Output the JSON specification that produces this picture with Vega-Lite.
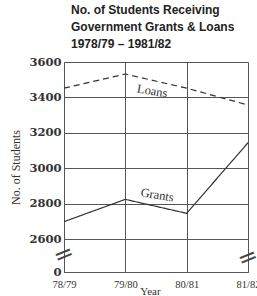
{
  "$schema": "https://vega.github.io/schema/vega-lite/v6.json",
  "autosize": {"type": "none"},
  "padding": {"left": 64, "top": 62, "right": 9, "bottom": 24},
  "width": 184,
  "height": 210,
  "background": "white",
  "title": {
    "text": ["No. of Students Receiving", "Government Grants & Loans", "1978/79 \u2013 1981/82"],
    "anchor": "start",
    "frame": "group",
    "dx": 7,
    "offset": 5,
    "font": "Liberation Sans",
    "fontSize": 12,
    "fontWeight": "bold",
    "color": "#222",
    "lineHeight": 17
  },
  "config": {
    "view": {"stroke": null},
    "axis": {"gridColor": "#555", "domainColor": "#555", "gridOpacity": 1, "ticks": false, "labelOverlap": false, "tickCount": 12}
  },
  "layer": [
    {
      "data": {"values": [
        {"year": 1978, "series": "Loans", "students": 3452},
        {"year": 1979, "series": "Loans", "students": 3532},
        {"year": 1980, "series": "Loans", "students": 3452},
        {"year": 1981, "series": "Loans", "students": 3357},
        {"year": 1978, "series": "Grants", "students": 2698},
        {"year": 1979, "series": "Grants", "students": 2824},
        {"year": 1980, "series": "Grants", "students": 2745},
        {"year": 1981, "series": "Grants", "students": 3144}
      ]},
      "mark": {"type": "line", "color": "#333", "strokeWidth": 1.2},
      "encoding": {
        "x": {
          "field": "year", "type": "quantitative",
          "scale": {"domain": [1978, 1981], "nice": false, "zero": false},
          "axis": {
            "values": [1978, 1979, 1980, 1981],
            "labelExpr": "(datum.value % 100) + '/' + ((datum.value + 1) % 100)",
            "grid": true,
            "labelFont": "Liberation Serif", "labelFontSize": 10.5, "labelColor": "#333",
            "labelPadding": 7, "labelFlush": false,
            "title": "Year", "titleFont": "Liberation Serif", "titleFontSize": 11,
            "titleFontWeight": "normal", "titleColor": "#333",
            "titleY": 13, "titleBaseline": "top", "titleX": 86
          }
        },
        "y": {
          "field": "students", "type": "quantitative",
          "scale": {"domain": [0, 2600, 3600], "range": [210, 177, 0], "nice": false},
          "axis": {
            "values": [0, 2600, 2800, 3000, 3200, 3400, 3600],
            "tickCount": 12,
            "format": "d",
            "grid": true,
            "labelFont": "DejaVu Serif", "labelFontSize": 11.5, "labelFontWeight": "bold",
            "labelColor": "#333", "labelPadding": 3,
            "title": "No. of Students", "titleFont": "Liberation Serif", "titleFontSize": 12,
            "titleFontWeight": "normal", "titleColor": "#333", "titlePadding": 6
          }
        },
        "strokeDash": {
          "field": "series", "type": "nominal",
          "scale": {"domain": ["Loans", "Grants"], "range": [[6, 4], [1, 0]]},
          "legend": null
        }
      }
    },
    {
      "data": {"values": [
        {"year": 1979.44, "students": 3436, "label": "Loans"},
        {"year": 1979.52, "students": 2849, "label": "Grants"}
      ]},
      "mark": {"type": "text", "font": "Liberation Serif", "fontSize": 12.5, "angle": 9, "color": "#333"},
      "encoding": {
        "x": {"field": "year", "type": "quantitative"},
        "y": {"field": "students", "type": "quantitative"},
        "text": {"field": "label"}
      }
    },
    {
      "data": {"values": [
        {"year": 1978, "students": 1339, "mark": "="},
        {"year": 1981, "students": 1100, "mark": "="}
      ]},
      "mark": {"type": "text", "font": "DejaVu Sans", "fontSize": 24, "angle": -22, "color": "#444"},
      "encoding": {
        "x": {"field": "year", "type": "quantitative"},
        "y": {"field": "students", "type": "quantitative"},
        "text": {"field": "mark"}
      }
    }
  ]
}
